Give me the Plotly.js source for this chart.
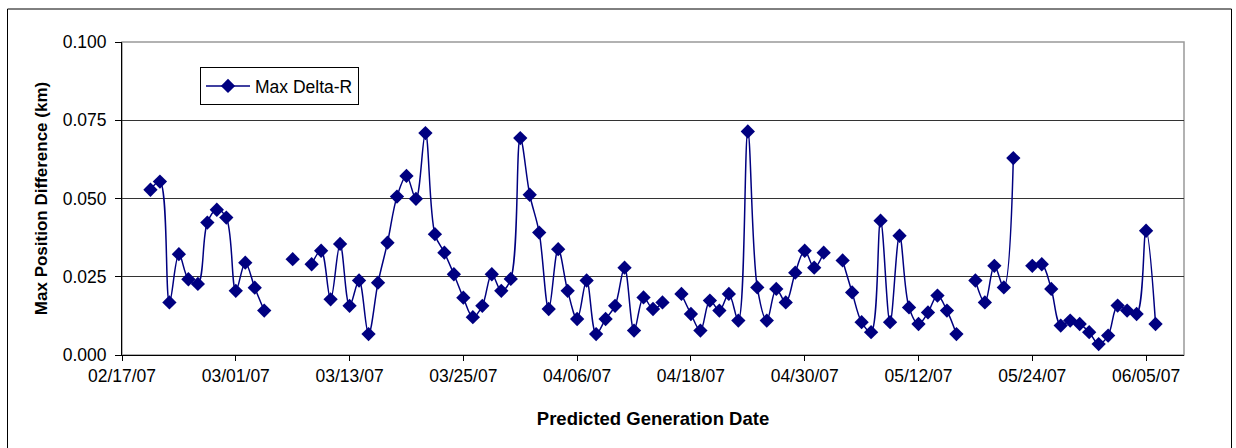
<!DOCTYPE html>
<html>
<head>
<meta charset="utf-8">
<script src="https://cdn.plot.ly/plotly-3.0.1.min.js"></script>
<style>html,body{margin:0;padding:0;background:#fff;}#chart{width:1236px;height:448px;}</style>
</head>
<body>
<div id="chart"></div>
<script>
// Data (null = no data for that day)
const dates = [
  "2007-02-20","2007-02-21","2007-02-22","2007-02-23","2007-02-24","2007-02-25","2007-02-26","2007-02-27","2007-02-28",
  "2007-03-01","2007-03-02","2007-03-03","2007-03-04","2007-03-05","2007-03-06","2007-03-07","2007-03-08","2007-03-09",
  "2007-03-10","2007-03-11","2007-03-12","2007-03-13","2007-03-14","2007-03-15","2007-03-16","2007-03-17","2007-03-18",
  "2007-03-19","2007-03-20","2007-03-21","2007-03-22","2007-03-23","2007-03-24","2007-03-25","2007-03-26","2007-03-27",
  "2007-03-28","2007-03-29","2007-03-30","2007-03-31","2007-04-01","2007-04-02","2007-04-03","2007-04-04","2007-04-05",
  "2007-04-06","2007-04-07","2007-04-08","2007-04-09","2007-04-10","2007-04-11","2007-04-12","2007-04-13","2007-04-14",
  "2007-04-15","2007-04-16","2007-04-17","2007-04-18","2007-04-19","2007-04-20","2007-04-21","2007-04-22","2007-04-23",
  "2007-04-24","2007-04-25","2007-04-26","2007-04-27","2007-04-28","2007-04-29","2007-04-30","2007-05-01","2007-05-02",
  "2007-05-03","2007-05-04","2007-05-05","2007-05-06","2007-05-07","2007-05-08","2007-05-09","2007-05-10","2007-05-11",
  "2007-05-12","2007-05-13","2007-05-14","2007-05-15","2007-05-16","2007-05-17","2007-05-18","2007-05-19","2007-05-20",
  "2007-05-21","2007-05-22","2007-05-23","2007-05-24","2007-05-25","2007-05-26","2007-05-27","2007-05-28","2007-05-29",
  "2007-05-30","2007-05-31","2007-06-01","2007-06-02","2007-06-03","2007-06-04","2007-06-05","2007-06-06"
];
const maxDeltaR = [
  0.0528,0.0554,0.0168,0.0322,0.0242,0.0227,0.0423,0.0464,0.0439,
  0.0205,0.0295,0.0215,0.0142,null,null,0.0306,null,0.0290,
  0.0333,0.0178,0.0355,0.0157,0.0238,0.0067,0.0231,0.0359,0.0506,
  0.0572,0.0499,0.0709,0.0386,0.0327,0.0258,0.0183,0.0121,0.0157,
  0.0258,0.0205,0.0243,0.0693,0.0512,0.0391,0.0147,0.0338,0.0205,
  0.0115,0.0238,0.0067,0.0115,0.0157,0.0279,0.0078,0.0184,0.0147,
  0.0168,null,0.0195,0.0131,0.0078,0.0174,0.0142,0.0195,0.0110,
  0.0714,0.0216,0.0110,0.0211,0.0168,0.0263,0.0333,0.0279,0.0327,
  null,0.0302,0.0200,0.0105,0.0073,0.0429,0.0105,0.0381,0.0152,
  0.0099,0.0136,0.0190,0.0142,0.0067,null,0.0238,0.0168,0.0285,
  0.0216,0.0629,null,0.0285,0.0290,0.0211,0.0094,0.0110,0.0099,
  0.0073,0.0035,0.0062,0.0158,0.0142,0.0131,0.0397,0.0099
];
const seriesName = "Max Delta-R";
const xTitle = "Predicted Generation Date";
const yTitle = "Max Position Difference (km)";

const W = 1236, H = 448;
const M = {l: 122, r: 52, t: 42, b: 93};
const pw = W - M.l - M.r, ph = H - M.t - M.b;
const px = v => (v - M.l) / pw;
const py = v => (H - M.b - v) / ph;

const font = "Liberation Sans, Arial, sans-serif";
const DAY = 86400000;

Plotly.newPlot("chart", [{
  x: dates, y: maxDeltaR, name: seriesName,
  type: "scatter", mode: "lines+markers",
  connectgaps: false,
  line: {color: "#000080", width: 1.5, shape: "spline", smoothing: 1},
  marker: {symbol: "diamond", size: 11, color: "#000080", line: {width: 0}}
}], {
  width: W, height: H,
  margin: M,
  paper_bgcolor: "#ffffff", plot_bgcolor: "#ffffff",
  font: {family: font, size: 17, color: "#000"},
  showlegend: true,
  legend: {
    x: px(200), y: py(67), xanchor: "left", yanchor: "top",
    bgcolor: "#ffffff", bordercolor: "#000", borderwidth: 1,
    itemwidth: 44,
    font: {family: font, size: 17.5, color: "#000"}
  },
  xaxis: {
    type: "date",
    range: ["2007-02-17", "2007-06-09"],
    tick0: "2007-02-17", dtick: 12 * DAY,
    tickformat: "%m/%d/%y",
    ticks: "outside", ticklen: 5, tickcolor: "#000", tickwidth: 1,
    showline: true, linecolor: "#000", linewidth: 1,
    showgrid: false, zeroline: false,
    tickfont: {family: font, size: 17.5, color: "#000"},
    title: {text: xTitle, font: {family: font, size: 18.5, color: "#000", weight: "bold"}, standoff: 27},
    automargin: false
  },
  yaxis: {
    range: [0, 0.1], dtick: 0.025, tick0: 0,
    tickformat: ".3f",
    ticks: "outside", ticklen: 6, tickcolor: "#000", tickwidth: 1,
    ticklabelstandoff: 5,
    showline: true, linecolor: "#000", linewidth: 1,
    showgrid: true, gridcolor: "#333333", gridwidth: 1,
    zeroline: false,
    tickfont: {family: font, size: 17.5, color: "#000"},
    title: {text: yTitle, font: {family: font, size: 17, color: "#000", weight: "bold"}, standoff: 10},
    automargin: false
  },
  shapes: [
    {type: "rect", xref: "paper", yref: "paper", x0: 0, x1: 1, y0: 0, y1: 1,
     line: {color: "#999999", width: 1.5}, layer: "below"},
    {type: "rect", xref: "paper", yref: "paper",
     x0: px(7.5), x1: px(1231.5), y0: py(9), y1: py(460),
     line: {color: "#000", width: 1}, layer: "below"}
  ]
}, {staticPlot: true, displayModeBar: false});
</script>
</body>
</html>
